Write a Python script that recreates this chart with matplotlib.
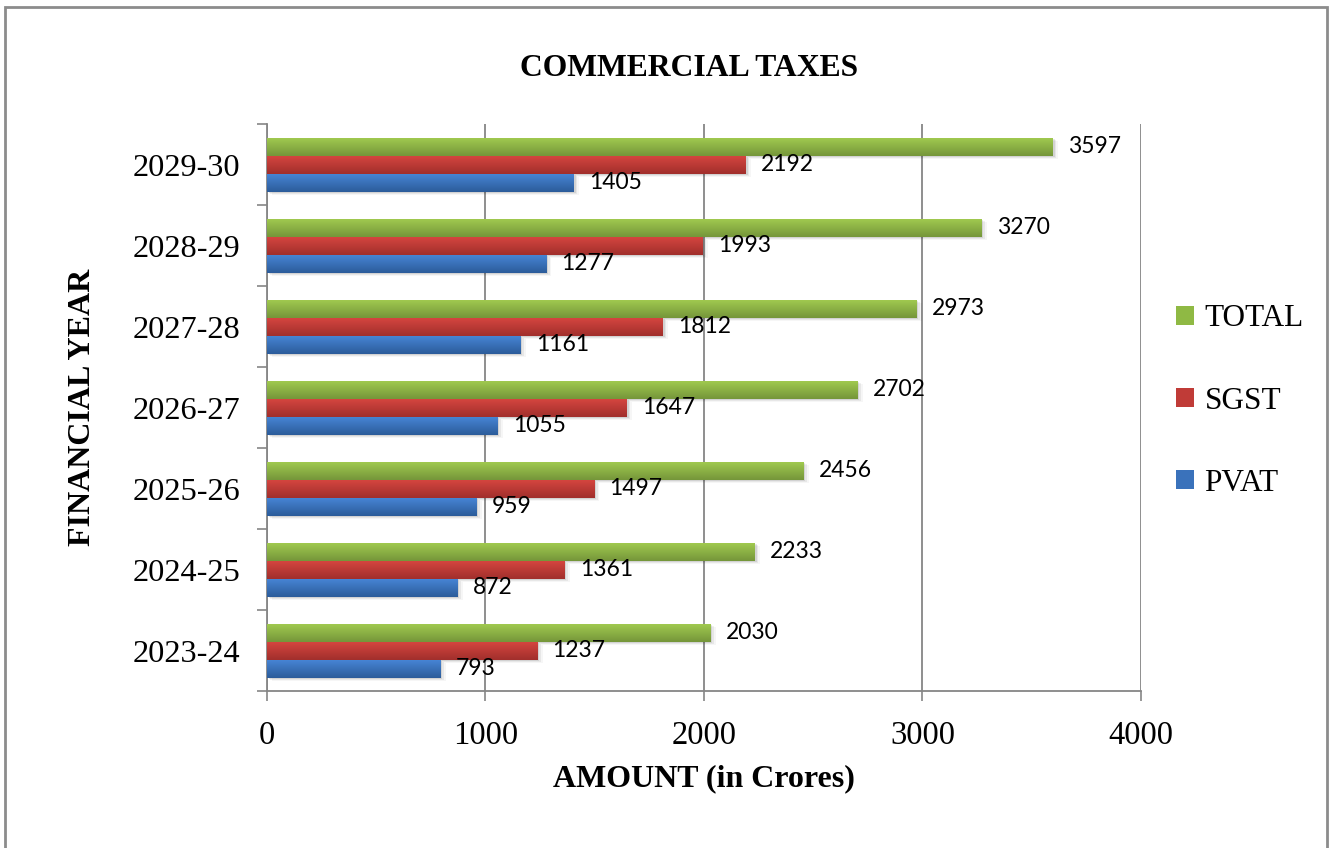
import matplotlib
matplotlib.use("Agg")
import matplotlib.pyplot as plt
import numpy as np
from matplotlib.colors import LinearSegmentedColormap
from matplotlib.patches import Patch, Rectangle

years = ["2023-24", "2024-25", "2025-26", "2026-27", "2027-28", "2028-29", "2029-30"]
pvat = [793, 872, 959, 1055, 1161, 1277, 1405]
sgst = [1237, 1361, 1497, 1647, 1812, 1993, 2192]
total = [2030, 2233, 2456, 2702, 2973, 3270, 3597]

# (top colour, bottom colour) for the vertical gradient of each series
shades = {
    "PVAT": ("#4684d4", "#2c5c9a"),
    "SGST": ("#d4453f", "#a12f2c"),
    "TOTAL": ("#a0c94f", "#75963a"),
}

serif = "Liberation Serif"
plt.rcParams["font.family"] = serif

fig = plt.figure(figsize=(13.29, 8.48), dpi=100)
ax = fig.add_axes([0.2009, 0.1851, 0.6576, 0.6686])

h = 0.222
y = np.arange(len(years))
series = [("PVAT", pvat, -h), ("SGST", sgst, 0.0), ("TOTAL", total, h)]

for name, vals, off in series:
    top, bot = shades[name]
    cmap = LinearSegmentedColormap.from_list(name, [bot, top])
    grad = np.linspace(0, 1, 64).reshape(-1, 1)
    bars = ax.barh(y + off, vals, height=h, color="none", edgecolor="none", zorder=3)
    for b, v in zip(bars, vals):
        x0, y0 = b.get_x(), b.get_y()
        bw, bh = b.get_width(), b.get_height()
        # soft drop shadow under the bar
        for k, a in enumerate([0.09, 0.06, 0.035]):
            dx = 8 + k * 8
            dy = 0.015 + k * 0.015
            ax.add_patch(Rectangle((x0 + dx, y0 - dy), bw, bh,
                                   facecolor="black", alpha=a, edgecolor="none", zorder=2))
        im = ax.imshow(grad, extent=[x0, x0 + bw, y0, y0 + bh], origin="lower",
                       aspect="auto", cmap=cmap, zorder=4)
        im.set_clip_path(b)
        ax.text(v + 70, y0 + bh / 2, str(v), va="center", ha="left",
                fontsize=16.5, family="Lato", color="black", zorder=5)

ax.set_xlim(0, 4000)
ax.set_ylim(-0.5, len(years) - 0.5)
ax.set_xticks([0, 1000, 2000, 3000, 4000])
ax.set_yticks(y)
ax.set_yticklabels(years)
ax.set_yticks(np.arange(-0.5, len(years)), minor=True)
ax.tick_params(axis="y", which="major", length=0, pad=19, labelsize=23.3)
ax.tick_params(axis="y", which="minor", length=7, width=1.2, color="#868686")
ax.tick_params(axis="x", length=7, width=1.2, color="#868686", pad=14, labelsize=23.5)
ax.grid(axis="x", color="#868686", linewidth=1.3, zorder=0)
ax.set_axisbelow(True)
for side in ["top", "right"]:
    ax.spines[side].set_visible(False)
for side in ["left", "bottom"]:
    ax.spines[side].set_color("#868686")
    ax.spines[side].set_linewidth(1.3)

ax.set_xlabel("AMOUNT (in Crores)", fontsize=23, fontweight="bold", labelpad=10)
ax.set_ylabel("FINANCIAL YEAR", fontsize=23, fontweight="bold", labelpad=26)
fig.text(0.5185, 0.919, "COMMERCIAL TAXES", ha="center", va="center",
         fontsize=22.8, fontweight="bold")

handles = [Patch(facecolor="#8fb944", label="TOTAL"),
           Patch(facecolor="#c03b37", label="SGST"),
           Patch(facecolor="#3a72bb", label="PVAT")]
fig.legend(handles=handles, loc="center left", bbox_to_anchor=(0.864, 0.527),
           frameon=False, fontsize=22.5, handlelength=0.55, handleheight=0.55,
           handletextpad=0.35, labelspacing=1.7)

# outer chart border
fig.add_artist(Rectangle((5 / 1329, -0.05), 1322 / 1329, 1 - 7 / 848 + 0.05,
                         transform=fig.transFigure, fill=False,
                         edgecolor="#8c8c8c", linewidth=2))

fig.savefig("out.png", dpi=100)
